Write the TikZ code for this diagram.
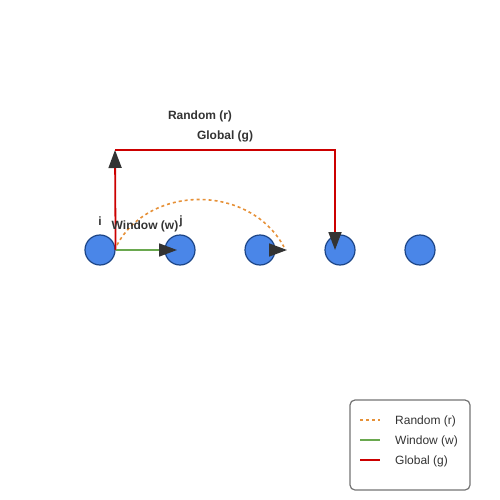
\documentclass[tikz,border=0pt]{standalone}
\usepackage{fontspec}
\setmainfont{Liberation Sans}
\usetikzlibrary{arrows.meta}
\definecolor{nodeblue}{HTML}{4A86E8}
\definecolor{nodeedge}{HTML}{1C4587}
\definecolor{tipgray}{HTML}{333333}
\definecolor{txtgray}{HTML}{333333}
\definecolor{randcol}{HTML}{E69138}
\definecolor{wincol}{HTML}{6AA84F}
\definecolor{globcol}{HTML}{CC0000}
\begin{document}
\begin{tikzpicture}[x=1pt,y=-1pt,
    tok/.style={circle,fill=nodeblue,draw=nodeedge,line width=1.2pt,minimum size=30pt,inner sep=0pt},
    lbl/.style={font=\bfseries\fontsize{12}{14}\selectfont,text=txtgray,inner sep=0pt},
    legtext/.style={font=\fontsize{12}{14}\selectfont,text=txtgray,anchor=west,inner sep=0pt},
    bigtip/.style={-{Triangle[length=18pt,width=13pt,color=tipgray]}},
    randline/.style={randcol,line width=1.6pt,dash pattern=on 3pt off 3pt},
    winline/.style={wincol,line width=1.6pt},
    globline/.style={globcol,line width=1.8pt}]
  \useasboundingbox (0,0) rectangle (500,500);
  \foreach \k/\x in {1/100,2/180,3/260,4/340,5/420} {
    \node[tok] (n\k) at (\x,250) {};
  }
  \node[lbl] (li) at (100,221) {i};
  \node[lbl] (lj) at (181,221) {j};
  % global
  \coordinate (gtop) at (115,150);
  \coordinate (gend) at (335,250);
  \draw[globline,bigtip] (n1.east) -- (gtop);
  \draw[globline,bigtip] (gtop) -| (gend);
  % window
  \coordinate (wend) at (177,250);
  \draw[winline,bigtip] (n1.east) -- (wend);
  % random
  \coordinate (rs) at (117,245);
  \coordinate (re) at (284,247);
  \coordinate (rb) at (271,250);
  \coordinate (rt) at (287,250);
  \draw[randline] (rs) .. controls (150,184) and (250,184) .. (re);
  \draw[randcol,line width=1.6pt,bigtip] (rb) -- (rt);
  \node[lbl] (lr) at (200,116) {Random (r)};
  \node[lbl] (lg) at (225,136) {Global (g)};
  \node[lbl] (lw) at (145,226) {Window (w)};
  % legend
  \draw[draw=black!55,line width=1.2pt,rounded corners=5pt] (350,400) rectangle (470,490);
  \draw[randline] (360,420) -- (380,420);
  \draw[winline] (360,440) -- (380,440);
  \draw[globline] (360,460) -- (380,460);
  \node[legtext] (tr) at (395,421) {Random (r)};
  \node[legtext] (tw) at (395,441) {Window (w)};
  \node[legtext] (tg) at (395,461) {Global (g)};
\end{tikzpicture}
\end{document}
